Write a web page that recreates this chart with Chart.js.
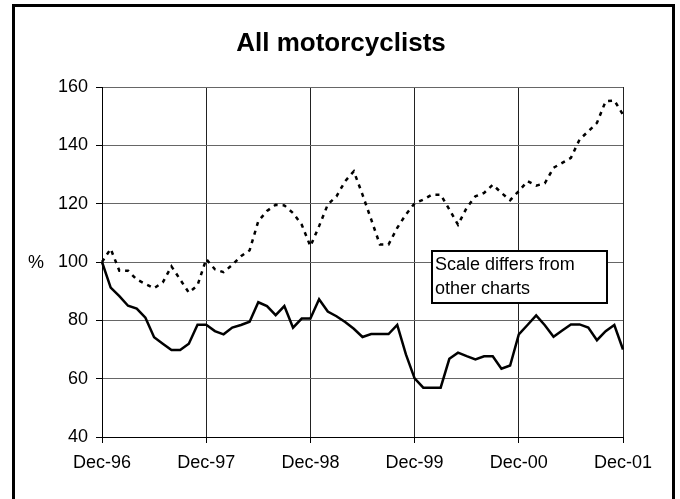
<!DOCTYPE html>
<html>
<head>
<meta charset="utf-8">
<title>All motorcyclists</title>
<script src="https://cdn.jsdelivr.net/npm/chart.js@4/dist/chart.umd.min.js"></script>
<style>
  html, body { margin: 0; padding: 0; background: #fff; }
  #wrap { width: 680px; height: 499px; }
</style>
</head>
<body>
<div id="wrap"><canvas id="chart" width="680" height="499"></canvas></div>
<script>
// Monthly index, Dec 1996 = 100
const monthNames = ['Jan','Feb','Mar','Apr','May','Jun','Jul','Aug','Sep','Oct','Nov','Dec'];
const months = [];
for (let i = 0; i <= 60; i++) {
    const m = (11 + i) % 12;
    const y = (96 + Math.floor((11 + i) / 12)) % 100;
    months.push(monthNames[m] + '-' + String(y).padStart(2, '0'));
}

const solidSeries = [100, 91.2, 88.3, 85, 84, 80.9, 74.2, 72, 69.8, 69.8, 72, 78.5, 78.5,
    76.3, 75.2, 77.5, 78.4, 79.5, 86.2, 84.9, 81.8, 84.9, 77.5, 80.6, 80.6,
    87.2, 83, 81.4, 79.4, 77.1, 74.3, 75.3, 75.3, 75.3, 78.4, 68.3, 60.1,
    56.9, 56.9, 56.9, 66.8, 68.9, 67.7, 66.6, 67.7, 67.7, 63.4, 64.5, 75.2,
    78.4, 81.7, 78.3, 74.4, 76.5, 78.6, 78.6, 77.5, 73.2, 76.3, 78.4, 70];

const dottedSeries = [100, 104.5, 97, 97, 94, 92.5, 91, 93, 98.5, 94, 89.5, 92, 101,
    97.5, 96.5, 99, 102, 104, 114, 117.5, 119.6, 119.4, 116.8, 112.8, 105.4,
    112.3, 119.7, 122.5, 127.7, 131.1, 123.1, 114.6, 106, 106, 111.7, 116.3, 120.1,
    121.4, 123.1, 123.1, 118, 112.8, 118.6, 122.5, 123.7, 126.5, 123.7, 121.2, 124.3,
    127.7, 126.2, 127, 132.3, 134, 135.7, 142, 144.8, 147.7, 155.1, 155.4, 150.5];

const yTicks = [40, 60, 80, 100, 120, 140, 160];
const titleText = 'All motorcyclists';
const noteLines = ['Scale differs from', 'other charts'];

const FONT = '"Liberation Sans", Arial, sans-serif';

// frame, title, % label and the note box
const decorations = {
    id: 'decorations',
    afterDraw(chart) {
        const ctx = chart.ctx;
        ctx.save();
        ctx.strokeStyle = '#000';
        ctx.lineWidth = 3;
        ctx.beginPath();
        ctx.moveTo(13.5, 510);
        ctx.lineTo(13.5, 5.5);
        ctx.lineTo(673.5, 5.5);
        ctx.lineTo(673.5, 510);
        ctx.stroke();

        ctx.fillStyle = '#000';
        ctx.font = 'bold 26px ' + FONT;
        ctx.textAlign = 'center';
        ctx.textBaseline = 'alphabetic';
        ctx.fillText(titleText, 341, 51);

        ctx.font = '18px ' + FONT;
        ctx.fillText('%', 36, chart.scales.y.getPixelForValue(100) + 6);

        // note box
        const bx = 432, by = 251, bw = 175, bh = 52;
        ctx.fillStyle = '#fff';
        ctx.fillRect(bx, by, bw, bh);
        ctx.lineWidth = 2;
        ctx.strokeRect(bx, by, bw, bh);
        ctx.fillStyle = '#000';
        ctx.textAlign = 'left';
        ctx.font = '18px ' + FONT;
        ctx.fillText(noteLines[0], bx + 3, by + 19);
        ctx.fillText(noteLines[1], bx + 3, by + 43);
        ctx.restore();
    }
};

new Chart(document.getElementById('chart'), {
    type: 'line',
    data: {
        labels: months,
        datasets: [{
            data: solidSeries,
            borderColor: '#000',
            borderWidth: 2.5,
            pointRadius: 0,
            tension: 0
        }, {
            data: dottedSeries,
            borderColor: '#000',
            borderWidth: 2.5,
            borderDash: [4, 5],
            pointRadius: 0,
            tension: 0
        }]
    },
    options: {
        responsive: false,
        animation: false,
        devicePixelRatio: 1,
        layout: { padding: { top: 87, right: 57, left: 0, bottom: 0 } },
        plugins: {
            legend: { display: false },
            tooltip: { enabled: false }
        },
        scales: {
            x: {
                type: 'category',
                offset: false,
                border: { color: '#000', width: 1 },
                grid: {
                    color: c => (c.index % 12 === 0 ? '#222' : 'transparent'),
                    tickColor: c => (c.index % 12 === 0 ? '#000' : 'transparent'),
                    tickLength: 6
                },
                ticks: {
                    autoSkip: false,
                    maxRotation: 0,
                    color: '#000',
                    font: { family: FONT, size: 18 },
                    padding: 9,
                    callback: (v, i) => (i % 12 === 0 ? months[i] : '')
                },
                afterFit: s => { s.height = 62; }
            },
            y: {
                min: 40,
                max: 160,
                border: { color: '#000', width: 1 },
                grid: { color: '#666', tickColor: '#000', tickLength: 6 },
                afterBuildTicks: s => { s.ticks = yTicks.map(v => ({ value: v })); },
                ticks: {
                    color: '#000',
                    font: { family: FONT, size: 18 },
                    padding: 8
                },
                afterFit: s => { s.width = 102; }
            }
        }
    },
    plugins: [decorations]
});
</script>
</body>
</html>
